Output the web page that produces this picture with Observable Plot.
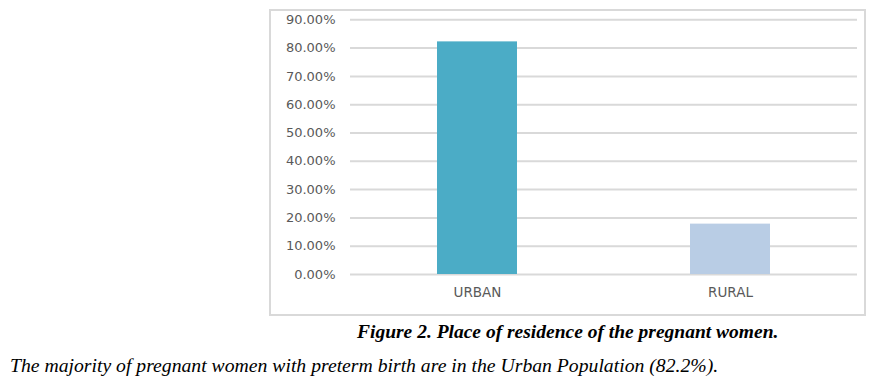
<!DOCTYPE html>
<html>
<head>
<meta charset="utf-8">
<script src="https://cdn.jsdelivr.net/npm/d3@7"></script>
<script src="https://cdn.jsdelivr.net/npm/@observablehq/plot@0.6"></script>
<style>
  html, body { margin: 0; padding: 0; background: #fff; width: 883px; height: 383px; overflow: hidden; }
  #chart { position: absolute; left: 269px; top: 9px; border: 2px solid #d9d9d9; width: 593px; height: 303px; }
  #chart svg { display: block; }
  .cap { position: absolute; font-family: "Liberation Serif", "Times New Roman", serif; font-style: italic; color: #000; white-space: nowrap; line-height: 22px; }
  #title { left: 357px; top: 321px; font-weight: bold; font-size: 19.5px; }
  #note { left: 10px; top: 354px; font-size: 19.7px; }
</style>
</head>
<body>
<div id="chart"></div>
<div class="cap" id="title">Figure 2. Place of residence of the pregnant women.</div>
<div class="cap" id="note">The majority of pregnant women with preterm birth are in the Urban Population (82.2%).</div>
<script>
const categories = ["URBAN", "RURAL"];
const values = [0.822, 0.178];
const colors = ["#4bacc6", "#b9cde5"];
const yTicks = [0, 0.1, 0.2, 0.3, 0.4, 0.5, 0.6, 0.7, 0.8, 0.9];

const data = categories.map((c, i) => ({ category: c, value: values[i], color: colors[i] }));

const plot = Plot.plot({
  width: 593,
  height: 303,
  marginLeft: 79,
  marginRight: 7,
  marginTop: 8.3,
  marginBottom: 40,
  style: { fontFamily: "DejaVu Sans, Verdana, sans-serif", fontSize: "13px", color: "#595959", background: "transparent" },
  x: { domain: categories, paddingInner: 0.6845, paddingOuter: 0.342, label: null },
  y: { domain: [0, 0.9], label: null },
  marks: [
    Plot.ruleY(yTicks, { stroke: "#d9d9d9", strokeWidth: 2 }),
    Plot.barY(data, { x: "category", y: "value", fill: "color" }),
    Plot.axisY({ ticks: yTicks, tickSize: 0, tickPadding: 15, tickFormat: d => (d * 100).toFixed(2) + "%", fill: "#595959", fontSize: 13, label: null }),
    Plot.axisX({ tickSize: 0, tickPadding: 13, fill: "#595959", fontSize: 13.5, label: null })
  ]
});
document.getElementById("chart").appendChild(plot);
</script>
</body>
</html>
